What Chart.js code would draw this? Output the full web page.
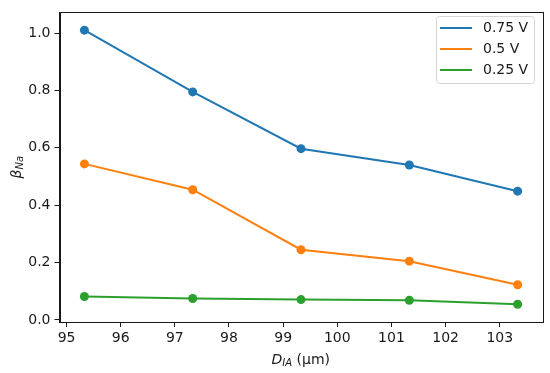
<!DOCTYPE html>
<html>
<head>
<meta charset="utf-8">
<script src="https://cdn.jsdelivr.net/npm/chart.js@4/dist/chart.umd.min.js"></script>
<style>
html,body{margin:0;padding:0;background:#fff;}
#wrap{width:550px;height:373px;position:relative;}
</style>
</head>
<body>
<div id="wrap"><canvas id="c" width="550" height="373"></canvas></div>
<script>
const xValues = [95.33, 97.33, 99.33, 101.33, 103.33];
const series075 = [1.010, 0.795, 0.597, 0.540, 0.449];
const series05 = [0.544, 0.454, 0.245, 0.205, 0.123];
const series025 = [0.082, 0.075, 0.071, 0.069, 0.055];
const seriesLabels = ['0.75 V', '0.5 V', '0.25 V'];
const seriesColors = ['#1f77b4', '#ff7f0e', '#2ca02c'];
const xTitle = {main: 'D', sub: 'IA', rest: ' (μm)'};
const yTitle = {main: 'β', sub: 'Na'};

const FONT = "'DejaVu Sans', sans-serif";
const toPts = arr => arr.map((y, i) => ({x: xValues[i], y}));
const allSeries = [series075, series05, series025];

const datasets = allSeries.map((s, i) => ({
  label: seriesLabels[i],
  data: toPts(s),
  borderColor: seriesColors[i],
  backgroundColor: seriesColors[i],
  borderWidth: 2,
  pointRadius: 4.5,
  pointHoverRadius: 4.5,
  pointBorderWidth: 0,
  tension: 0
}));

const framePlugin = {
  id: 'frame',
  afterDraw(chart) {
    const ctx = chart.ctx;
    const a = chart.chartArea;
    ctx.save();
    ctx.strokeStyle = '#1a1a1a';
    ctx.lineWidth = 1;
    ctx.strokeRect(Math.round(a.left) + 0.5, Math.round(a.top) + 0.5, Math.round(a.right - a.left), Math.round(a.bottom - a.top));

    // legend
    const lx = 436, ly = 16, lw = 98, lh = 67;
    ctx.beginPath();
    if (ctx.roundRect) ctx.roundRect(lx + 0.5, ly + 0.5, lw, lh, 3); else ctx.rect(lx + 0.5, ly + 0.5, lw, lh);
    ctx.fillStyle = 'rgba(255,255,255,0.8)';
    ctx.fill();
    ctx.strokeStyle = '#d6d6d6';
    ctx.stroke();
    ctx.font = '14px ' + FONT;
    ctx.textBaseline = 'middle';
    ctx.textAlign = 'left';
    chart.data.datasets.forEach((ds, i) => {
      const yy = 28 + i * 21;
      ctx.strokeStyle = ds.borderColor;
      ctx.lineWidth = 2;
      ctx.beginPath();
      ctx.moveTo(440, yy);
      ctx.lineTo(472, yy);
      ctx.stroke();
      ctx.fillStyle = '#1a1a1a';
      ctx.fillText(ds.label, 483, yy);
    });

    // x title
    ctx.fillStyle = '#1a1a1a';
    ctx.textBaseline = 'alphabetic';
    const cx = (a.left + a.right) / 2;
    const mainF = 'italic 14px ' + FONT, subF = 'italic 10px ' + FONT, restF = '14px ' + FONT;
    ctx.font = mainF; const w1 = ctx.measureText(xTitle.main).width;
    ctx.font = subF; const w2 = ctx.measureText(xTitle.sub).width;
    ctx.font = restF; const w3 = ctx.measureText(xTitle.rest).width;
    let sx = cx - (w1 + w2 + w3) / 2;
    const by = 364;
    ctx.font = mainF; ctx.fillText(xTitle.main, sx, by); sx += w1;
    ctx.font = subF; ctx.fillText(xTitle.sub, sx, by + 2); sx += w2;
    ctx.font = restF; ctx.fillText(xTitle.rest, sx, by);

    // y title
    ctx.save();
    const cy = (a.top + a.bottom) / 2;
    ctx.translate(21, cy);
    ctx.rotate(-Math.PI / 2);
    ctx.font = mainF; const v1 = ctx.measureText(yTitle.main).width;
    ctx.font = subF; const v2 = ctx.measureText(yTitle.sub).width;
    let ty = -(v1 + v2) / 2;
    ctx.font = mainF; ctx.fillText(yTitle.main, ty, 0); ty += v1;
    ctx.font = subF; ctx.fillText(yTitle.sub, ty, 2);
    ctx.restore();
    ctx.restore();
  }
};

new Chart(document.getElementById('c'), {
  type: 'line',
  data: {datasets},
  options: {
    responsive: false,
    animation: false,
    layout: {padding: {top: 9, right: 8, left: 0, bottom: 0}},
    plugins: {legend: {display: false}, tooltip: {enabled: false}},
    scales: {
      x: {
        type: 'linear',
        min: 94.87,
        max: 103.78,
        afterFit(s) { s.height = 51; },
        grid: {drawOnChartArea: false, drawTicks: true, tickLength: 5, color: '#1a1a1a'},
        border: {display: true, color: '#1a1a1a', width: 1},
        ticks: {stepSize: 1, includeBounds: false, padding: 3, color: '#1a1a1a', font: {family: FONT, size: 14}, maxRotation: 0,
          callback: v => String(v)}
      },
      y: {
        type: 'linear',
        min: -0.007,
        max: 1.072,
        afterFit(s) { s.width = 59.5; },
        grid: {drawOnChartArea: false, drawTicks: true, tickLength: 5, color: '#1a1a1a'},
        border: {display: true, color: '#1a1a1a', width: 1},
        ticks: {stepSize: 0.2, includeBounds: false, padding: 4, color: '#1a1a1a', font: {family: FONT, size: 14},
          callback: v => Number(v).toFixed(1)}
      }
    }
  },
  plugins: [framePlugin]
});
</script>
</body>
</html>
